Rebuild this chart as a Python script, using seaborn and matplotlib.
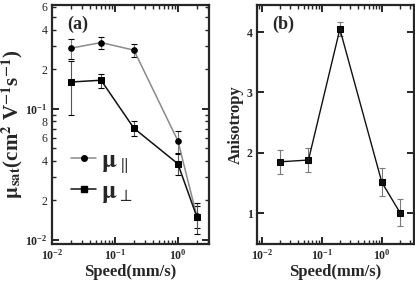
import numpy as np
import pandas as pd
import seaborn as sns
import matplotlib
matplotlib.use("Agg")
import matplotlib.pyplot as plt
from matplotlib.lines import Line2D
from matplotlib.ticker import LogLocator, FuncFormatter, LogFormatterMathtext, NullFormatter

# data
speed = [0.02, 0.06, 0.2, 1.0, 2.0]
mu_par = [0.29, 0.32, 0.28, 0.057, 0.0152]
mu_par_err = [0.05, 0.035, 0.03, 0.011, 0.003]
mu_perp = [0.16, 0.165, 0.071, 0.038, 0.015]
mu_perp_err = [0.07, 0.02, 0.009, 0.007, 0.004]
aniso = [1.85, 1.88, 4.05, 1.51, 1.01]
aniso_err = [0.2, 0.2, 0.12, 0.23, 0.22]

sns.set_style("ticks")
plt.rcParams['font.family'] = ['Liberation Serif', 'DejaVu Serif']
plt.rcParams['mathtext.fontset'] = 'stix'
plt.rcParams['axes.linewidth'] = 1.6

fig = plt.figure(figsize=(4.15, 2.89), dpi=100)
ax1 = fig.add_axes([0.125, 0.156, 0.378, 0.827])
ax2 = fig.add_axes([0.619, 0.156, 0.378, 0.827])

df = pd.DataFrame({
    "speed": speed * 2,
    "mu": mu_par + mu_perp,
    "kind": ["par"] * 5 + ["perp"] * 5,
})

# error bars first
ax1.errorbar(speed, mu_par, yerr=mu_par_err, fmt="none", ecolor="#7a7a7a",
             elinewidth=0.8, capsize=2.5, capthick=0.8)
ax1.errorbar(speed, mu_perp, yerr=mu_perp_err, fmt="none", ecolor="#555555",
             elinewidth=0.8, capsize=2.5, capthick=0.8)
sns.lineplot(data=df, x="speed", y="mu", hue="kind", style="kind",
             palette={"par": "#8a8a8a", "perp": "#111111"},
             markers={"par": "o", "perp": "s"}, dashes=False,
             markersize=4, linewidth=1.1, ax=ax1, legend=False)
for ln in ax1.lines:
    ln.set_markerfacecolor("black")
    ln.set_markeredgecolor("black")

ax1.set_xscale("log")
ax1.set_yscale("log")
ax1.set_xlim(0.0099, 3.1)
ax1.set_ylim(0.0093, 0.62)

def minor_lab(v, pos):
    d = int(round(v / 10 ** np.floor(np.log10(v) + 1e-9)))
    return str(d) if d in (2, 4, 6, 8) else ""

ax1.yaxis.set_major_locator(LogLocator(base=10))
ax1.yaxis.set_major_formatter(LogFormatterMathtext())
ax1.yaxis.set_minor_locator(LogLocator(base=10, subs=range(2, 10)))
ax1.yaxis.set_minor_formatter(FuncFormatter(minor_lab))

handles = [Line2D([], [], color="#8a8a8a", marker="o", markersize=4,
                  markerfacecolor="black", markeredgecolor="black", lw=1.1),
           Line2D([], [], color="#111111", marker="s", markersize=4,
                  markerfacecolor="black", markeredgecolor="black", lw=1.1)]
ax1.legend(handles, [r"$\mathbf{\mu}_{\parallel}$", r"$\mathbf{\mu}_{\perp}$"],
           loc="center left", bbox_to_anchor=(-0.02, 0.28), frameon=False,
           handlelength=1.0, handletextpad=0.2, prop={"size": 18},
           labelspacing=0.2)

ax1.set_xlabel("Speed(mm/s)", fontsize=12, fontweight="bold", labelpad=1)
ax1.set_ylabel(r"$\mathbf{\mu}_{\mathbf{sat}}$(cm$^{\mathbf{2}}$ V$^{\mathbf{-1}}$s$^{\mathbf{-1}}$)",
               fontsize=15, fontweight="bold", labelpad=0)
ax1.text(0.1, 0.9, "(a)", transform=ax1.transAxes, fontsize=13, fontweight="bold")

# panel b
ax2.errorbar(speed, aniso, yerr=aniso_err, fmt="none", ecolor="#7a7a7a",
             elinewidth=0.8, capsize=2.5, capthick=0.8)
sns.lineplot(x=speed, y=aniso, color="#111111", marker="s", markersize=4,
             markeredgecolor="black", linewidth=1.0, ax=ax2)
ax2.set_xscale("log")
ax2.set_xlim(0.0083, 3.4)
ax2.set_ylim(0.49, 4.45)
ax2.set_yticks([1, 2, 3, 4])
ax2.set_xlabel("Speed(mm/s)", fontsize=12, fontweight="bold", labelpad=1)
ax2.set_ylabel("Anisotropy", fontsize=12, fontweight="bold", labelpad=2)
ax2.text(0.1, 0.9, "(b)", transform=ax2.transAxes, fontsize=13, fontweight="bold")

for ax in (ax1, ax2):
    ax.xaxis.set_major_locator(LogLocator(base=10))
    ax.xaxis.set_major_formatter(LogFormatterMathtext())
    ax.xaxis.set_minor_locator(LogLocator(base=10, subs=range(2, 10)))
    ax.xaxis.set_minor_formatter(NullFormatter())
    ax.tick_params(which="both", direction="in", top=True, right=True,
                   labelsize=8.5, pad=3)
    ax.tick_params(which="major", length=5, width=1.4)
    ax.tick_params(which="minor", length=3, width=1.0)
    for lab in ax.get_xticklabels() + ax.get_yticklabels():
        lab.set_fontweight("bold")
ax1.tick_params(axis="y", which="minor", labelsize=8.5, pad=3)

fig.savefig("out.png", dpi=100)
